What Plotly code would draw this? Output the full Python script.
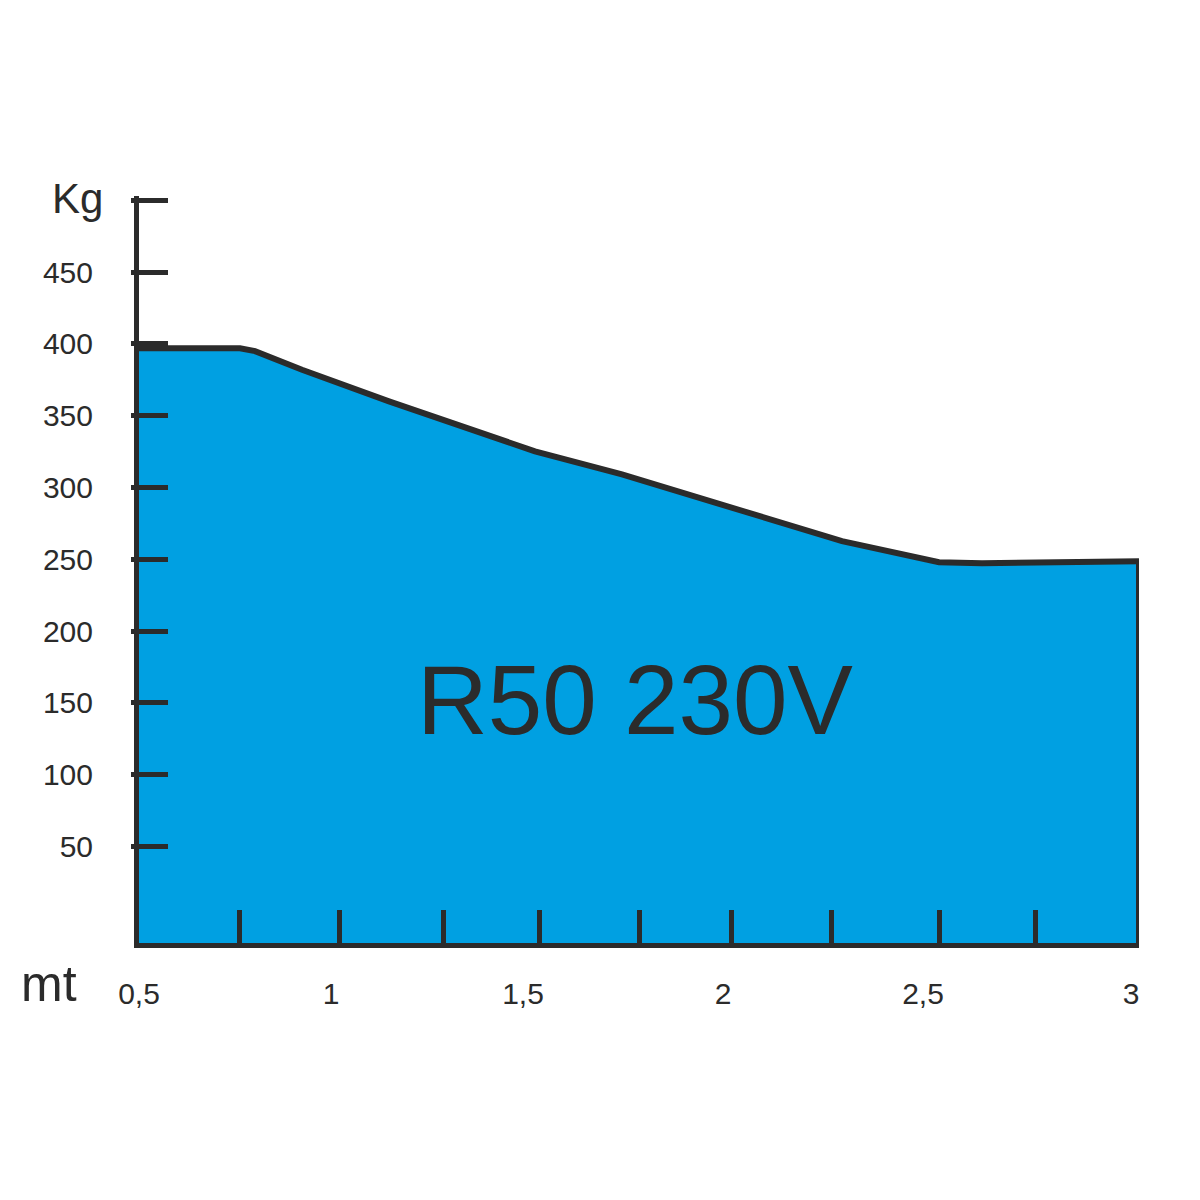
import plotly.graph_objects as go

# load capacity curve
x_mt = [0.5, 0.7525, 0.79, 0.9075, 1.125, 1.375, 1.49, 1.7075, 1.9575, 2.2575, 2.5, 2.6075, 3.0]
kg = [397, 397, 395, 382, 360, 335.6, 325.2, 309.2, 288.3, 262.6, 248, 247.3, 248.7]

y_ticks = [50, 100, 150, 200, 250, 300, 350, 400, 450, 500]
y_labels = ["50", "100", "150", "200", "250", "300", "350", "400", "450", ""]
x_ticks = [0.75, 1.0, 1.26, 1.5, 1.75, 1.98, 2.23, 2.5, 2.74]
x_label_pos = [0.5, 0.98, 1.46, 1.96, 2.46, 2.98]
x_labels = ["0,5", "1", "1,5", "2", "2,5", "3"]

Y_FLOOR = -17.2
Y_TOP = 503
INK = "#2b2b2b"
BLUE = "#00a0e2"
FONT = "Liberation Sans, Arial, sans-serif"

fig = go.Figure()

# invisible baseline so the fill stops at the drawn x axis
fig.add_trace(go.Scatter(x=[x_mt[0], x_mt[-1]], y=[Y_FLOOR, Y_FLOOR], mode="lines",
                         line=dict(width=0), hoverinfo="skip", showlegend=False))
fig.add_trace(go.Scatter(x=x_mt, y=kg, mode="lines", fill="tonexty", fillcolor=BLUE,
                         line=dict(color=INK, width=6), hoverinfo="skip", showlegend=False))
# right edge of the area
fig.add_trace(go.Scatter(x=[x_mt[-1], x_mt[-1]], y=[kg[-1], Y_FLOOR], mode="lines",
                         line=dict(color=INK, width=6), yaxis="y2",
                         hoverinfo="skip", showlegend=False))

fig.add_annotation(x=1.74, y=152, text="R50 230V", showarrow=False,
                   font=dict(family=FONT, size=98, color=INK))
fig.add_annotation(x=-0.062, y=0.997, xref="paper", yref="paper", text="Kg", showarrow=False,
                   font=dict(family=FONT, size=42, color=INK), xanchor="center", yanchor="middle")
fig.add_annotation(x=-0.09, y=-0.0547, xref="paper", yref="paper", text="mt", showarrow=False,
                   font=dict(family=FONT, size=50, color=INK), xanchor="center", yanchor="middle")

# page body adds an 8px offset, so margins are shifted to compensate
fig.update_layout(
    width=1200, height=1200,
    margin=dict(l=131, r=69, t=188, b=265, autoexpand=False),
    paper_bgcolor="white", plot_bgcolor="white",
    xaxis=dict(range=[0.5, 3.0], showgrid=False, zeroline=False, automargin=False,
               showline=True, linewidth=5, linecolor=INK,
               tickmode="array", tickvals=x_label_pos, ticktext=x_labels,
               ticks="", ticklabelstandoff=20,
               tickfont=dict(family=FONT, size=30, color=INK),
               minor=dict(tickmode="array", tickvals=x_ticks, ticks="inside",
                          ticklen=33, tickwidth=5, tickcolor=INK, showgrid=False)),
    yaxis=dict(range=[Y_FLOOR, Y_TOP], showgrid=False, zeroline=False, automargin=False,
               showline=True, linewidth=5, linecolor=INK,
               tickmode="array", tickvals=y_ticks, ticktext=y_labels,
               ticks="inside", ticklen=29, tickwidth=5, tickcolor=INK,
               ticklabelstandoff=35,
               tickfont=dict(family=FONT, size=30, color=INK)),
    yaxis2=dict(range=[Y_FLOOR, Y_TOP], overlaying="y", side="left", anchor="x",
                showgrid=False, zeroline=False, showline=False, automargin=False,
                tickmode="array", tickvals=y_ticks, showticklabels=False,
                ticks="outside", ticklen=7, tickwidth=5, tickcolor=INK),
)

fig.write_html("out.html")
